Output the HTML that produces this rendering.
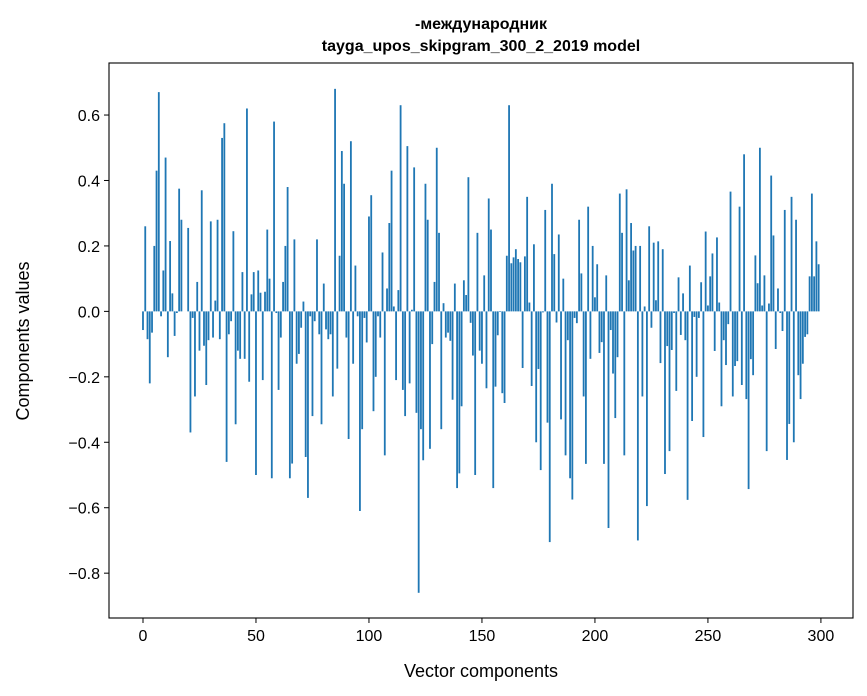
<!DOCTYPE html>
<html><head><meta charset="utf-8">
<style>
body{margin:0;background:#fff;}
svg{display:block;font-family:"Liberation Sans","DejaVu Sans",sans-serif;}
</style></head>
<body>
<svg id="chart" width="867" height="696" viewBox="0 0 867 696"></svg>
<script>
const categories = Array.from({length:300},(_,i)=>i);
const values = [
-0.057,0.26,-0.085,-0.22,-0.065,0.20,0.43,0.67,-0.015,0.125,
0.47,-0.14,0.215,0.055,-0.075,-0.005,0.375,0.28,0.0,0.0,
0.255,-0.37,-0.02,-0.26,0.09,-0.12,0.37,-0.105,-0.225,-0.088,
0.275,-0.08,0.033,0.28,-0.085,0.53,0.575,-0.46,-0.07,-0.03,
0.245,-0.345,-0.12,-0.145,0.12,-0.145,0.62,-0.215,0.052,0.12,
-0.50,0.125,0.057,-0.21,0.06,0.25,0.10,-0.51,0.58,-0.005,
-0.24,-0.08,0.09,0.20,0.38,-0.51,-0.465,0.22,-0.16,-0.13,
-0.05,0.03,-0.445,-0.57,-0.015,-0.32,-0.03,0.22,-0.07,-0.345,
0.085,-0.055,-0.085,-0.07,-0.26,0.68,-0.175,0.17,0.49,0.39,
-0.08,-0.39,0.52,-0.16,0.14,-0.015,-0.61,-0.36,-0.02,-0.095,
0.29,0.355,-0.305,-0.20,-0.015,-0.08,0.18,-0.44,0.07,0.27,
0.43,0.015,-0.21,0.065,0.63,-0.24,-0.32,0.505,-0.22,0.005,
0.44,-0.31,-0.86,-0.36,-0.455,0.39,0.28,-0.42,-0.10,0.09,
0.50,0.24,-0.36,0.025,-0.08,-0.065,-0.09,-0.27,0.085,-0.54,
-0.495,-0.29,0.095,0.05,0.41,-0.035,-0.135,-0.50,0.24,-0.12,
-0.16,0.11,-0.235,0.345,0.25,-0.54,-0.23,-0.073,-0.002,-0.25,
-0.28,0.17,0.63,0.147,0.165,0.19,0.16,0.15,-0.173,0.168,
0.35,0.027,-0.228,0.205,-0.40,-0.176,-0.485,-0.003,0.31,-0.34,
-0.705,0.39,0.175,-0.034,0.235,-0.33,0.10,-0.44,-0.088,-0.51,
-0.575,-0.02,-0.036,0.28,0.116,-0.26,-0.466,0.32,-0.145,0.20,
0.043,0.144,-0.127,-0.094,-0.466,0.11,-0.662,-0.057,-0.19,-0.326,
-0.14,0.36,0.24,-0.44,0.373,0.095,0.27,0.186,0.20,-0.70,
0.20,-0.26,0.015,-0.595,0.26,-0.05,0.21,0.034,0.214,-0.158,
0.19,-0.497,-0.106,-0.427,-0.118,-0.005,-0.243,0.104,-0.072,0.055,
-0.088,-0.576,0.14,-0.335,-0.017,-0.20,-0.02,0.089,-0.384,0.244,
0.018,0.107,0.177,-0.121,0.226,0.027,-0.29,-0.088,-0.164,-0.039,
0.366,-0.26,-0.167,-0.152,0.32,-0.225,0.48,-0.268,-0.543,-0.146,
-0.195,0.171,0.086,0.50,0.018,0.11,-0.427,0.024,0.415,0.232,
-0.115,0.07,-0.005,-0.06,0.31,-0.454,-0.344,0.35,-0.40,0.28,
-0.195,-0.268,-0.16,-0.078,-0.07,0.107,0.36,0.107,0.214,0.144
];
const xTicks = [0,50,100,150,200,250,300];
const yTicks = [0.6,0.4,0.2,0.0,-0.2,-0.4,-0.6,-0.8];
const yTickLabels = ["0.6","0.4","0.2","0.0","\u22120.2","\u22120.4","\u22120.6","\u22120.8"];

const L=109,R=853,T=63,B=618;
const xDom=[-15.04,314.2], yDom=[-0.937,0.759];
const xs=v=>L+(v-xDom[0])/(xDom[1]-xDom[0])*(R-L);
const ys=v=>B-(v-yDom[0])/(yDom[1]-yDom[0])*(B-T);
const NS="http://www.w3.org/2000/svg";
const svg=document.getElementById('chart');
function mk(tag,attrs,parent){const e=document.createElementNS(NS,tag);for(const k in attrs)e.setAttribute(k,attrs[k]);(parent||svg).appendChild(e);return e;}

const bars=mk('g',{});


const bw=(xs(0.8)-xs(0));
categories.forEach((c,i)=>{
  const v=values[i];
  const y0=ys(0), y1=ys(v);
  const r=mk('rect',{x:xs(c)-bw/2,y:Math.min(y0,y1),width:bw,height:Math.max(Math.abs(y1-y0),0.01),fill:'#1f77b4'},bars);
  
  
});

const frame=mk('rect',{x:L,y:T,width:R-L,height:B-T,fill:'none',stroke:'#000','stroke-width':1.1});



const xa=mk('g',{});


xTicks.forEach(t=>{
  const x=xs(t);
  mk('line',{x1:x,x2:x,y1:B,y2:B+5,stroke:'#000','stroke-width':1},xa);
  const tx=mk('text',{x:x,y:B+23,'text-anchor':'middle','font-size':16,fill:'#000'},xa);
  tx.textContent=t;
  
  
});
const ya=mk('g',{});


yTicks.forEach((t,i)=>{
  const y=ys(t);
  mk('line',{x1:L-5,x2:L,y1:y,y2:y,stroke:'#000','stroke-width':1},ya);
  const tx=mk('text',{x:L-9,y:y+6,'text-anchor':'end','font-size':16,fill:'#000'},ya);
  tx.textContent=yTickLabels[i];
  
  
});
</script>
<script>
(function(){
const svg=document.getElementById('chart');
const NS="http://www.w3.org/2000/svg";
function t(txt,attrs,name){const e=document.createElementNS(NS,'text');for(const k in attrs)e.setAttribute(k,attrs[k]);e.textContent=txt;


svg.appendChild(e);}
t('-международник',{x:481,y:29,'text-anchor':'middle','font-size':16,'font-weight':'bold'},'chart-title-line-1');
t('tayga_upos_skipgram_300_2_2019 model',{x:481,y:51,'text-anchor':'middle','font-size':16,'font-weight':'bold'},'chart-title-line-2');
t('Vector components',{x:481,y:677,'text-anchor':'middle','font-size':18},'x-axis-title');
t('Components values',{x:0,y:0,'text-anchor':'middle','font-size':18,transform:'translate(29,341) rotate(-90)'},'y-axis-title');
})();
</script>
</body></html>
